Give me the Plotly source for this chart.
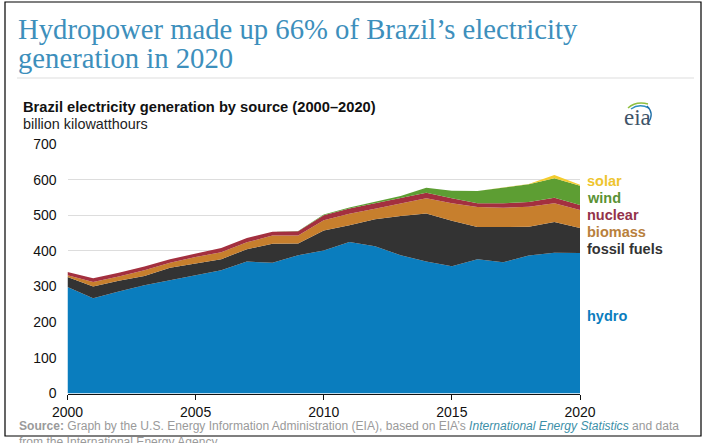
import plotly.graph_objects as go

years = list(range(2000, 2021))
hydro = [299, 267, 286, 304, 318, 332, 346, 370, 367, 388, 401, 425, 413, 388, 370, 357, 377, 368, 387, 395, 394]
fossil = [28, 33, 30, 26, 35, 34, 31, 35, 53, 33, 56, 47, 76, 110, 135, 128, 90, 99, 81, 86, 70]
biomass = [5, 13, 12, 16, 14, 17, 19, 19, 23, 22, 29, 32, 29, 34, 43, 49, 56, 54, 56, 53, 51]
nuclear = [9, 10, 11, 10, 10, 9, 12, 12, 11, 12, 14, 15, 16, 15, 15, 14, 11, 13, 13, 15, 14]
wind = [0, 0, 0, 0, 0, 0, 0, 0, 0, 1, 2, 3, 5, 7, 14, 21, 34, 44, 50, 55, 54]
solar = [0, 0, 0, 0, 0, 0, 0, 0, 0, 0, 0, 0, 0, 0, 0, 0, 0, 1, 1, 9, 3]

series = [
    ("hydro", hydro, "#0a7dbe", 316),
    ("fossil fuels", fossil, "#333333", 249),
    ("biomass", biomass, "#c77f2d", 232),
    ("nuclear", nuclear, "#a3303f", 215),
    ("wind", wind, "#5d9e33", 198),
    ("solar", solar, "#f3cc2e", 181),
]
label_colors = {"hydro": "#0a7dbe", "fossil fuels": "#333333", "biomass": "#b8803c",
                "nuclear": "#93324a", "wind": "#5a9234", "solar": "#eec52f"}

W, H = 704, 443
L, R, T, B = 67.5, 580, 144, 393.5
fig = go.Figure()
for name, vals, col, _ in series:
    fig.add_trace(go.Scatter(x=years, y=vals, name=name, mode="lines", stackgroup="one",
                             line=dict(width=0, color=col), fillcolor=col, showlegend=False))

def px(x): return x / W
def py(y): return 1 - y / H

ann = []
def text(x, y, s, size, color, family="Liberation Sans", anchor="left"):
    ann.append(dict(x=px(x), y=py(y), xref="paper", yref="paper", text=s, showarrow=False,
                    xanchor=anchor, yanchor="middle", align="left",
                    font=dict(size=size, color=color, family=family)))

text(16, 29, "Hydropower made up 66% of Brazil’s electricity", 28.7, "#3d8fbc", "Liberation Serif")
text(16, 58, "generation in 2020", 28.7, "#3d8fbc", "Liberation Serif")
text(21, 107, "<b>Brazil electricity generation by source (2000–2020)</b>", 14.7, "#111111")
text(21, 124, "billion kilowatthours", 14.4, "#222222")
text(17, 434, '<b>Source:</b> Graph by the U.S. Energy Information Administration (EIA), based on EIA’s '
     '<i><span style="color:#3d8fa8">International Energy Statistics</span></i> and data'
     '<br>from the International Energy Agency', 12.07, "#9a9a9a")
text(637, 117, "eia", 23, "#3f5468", "Liberation Serif", "center")

for name, vals, col, y in series:
    text(585, y, f"<b>{name}</b>", 14.5, label_colors[name])

shapes = [
    dict(type="rect", xref="paper", yref="paper", x0=px(5), x1=px(701), y0=py(2), y1=py(436),
         line=dict(color="#000000", width=1.2), layer="below"),
    dict(type="line", xref="paper", yref="paper", x0=px(17), x1=px(694), y0=py(78), y1=py(78),
         line=dict(color="#dddddd", width=1)),
    dict(type="path", xref="paper", yref="paper",
         path=f"M {px(628)} {py(108)} Q {px(636)} {py(101)} {px(648)} {py(104)}",
         line=dict(color="#8fbf3f", width=1.5)),
    dict(type="path", xref="paper", yref="paper",
         path=f"M {px(631)} {py(109)} Q {px(639)} {py(103)} {px(649)} {py(108)}",
         line=dict(color="#2f8fc0", width=1.5)),
    dict(type="path", xref="paper", yref="paper",
         path=f"M {px(647)} {py(106)} Q {px(655)} {py(114)} {px(648)} {py(123)}",
         line=dict(color="#1f6fa8", width=1.2)),
]

fig.update_layout(
    width=W, height=H, autosize=False,
    margin=dict(l=0, r=0, t=0, b=0),
    paper_bgcolor="white", plot_bgcolor="white",
    font=dict(family="Liberation Sans", size=14, color="#111111"),
    annotations=ann, shapes=shapes,
    xaxis=dict(domain=[L / W, R / W], range=[2000, 2020], tickvals=[2000, 2005, 2010, 2015, 2020],
               automargin=False, ticklabelstandoff=1,
               showgrid=False, zeroline=False, showline=True, linecolor="#111111", linewidth=1,
               ticks="outside", ticklen=5, tickcolor="#111111", tickfont=dict(size=14)),
    yaxis=dict(domain=[1 - B / H, 1 - T / H], range=[0, 700], tickvals=list(range(0, 701, 100)),
               automargin=False, ticklabelstandoff=10,
               showgrid=True, gridcolor="#dddddd", gridwidth=1, zeroline=False, showline=False,
               ticks="", tickfont=dict(size=14), layer="below traces"),
)
fig.write_html("out.html", config=dict(displayModeBar=False),
               post_script="document.body.style.margin='0';document.body.style.overflow='hidden';")
